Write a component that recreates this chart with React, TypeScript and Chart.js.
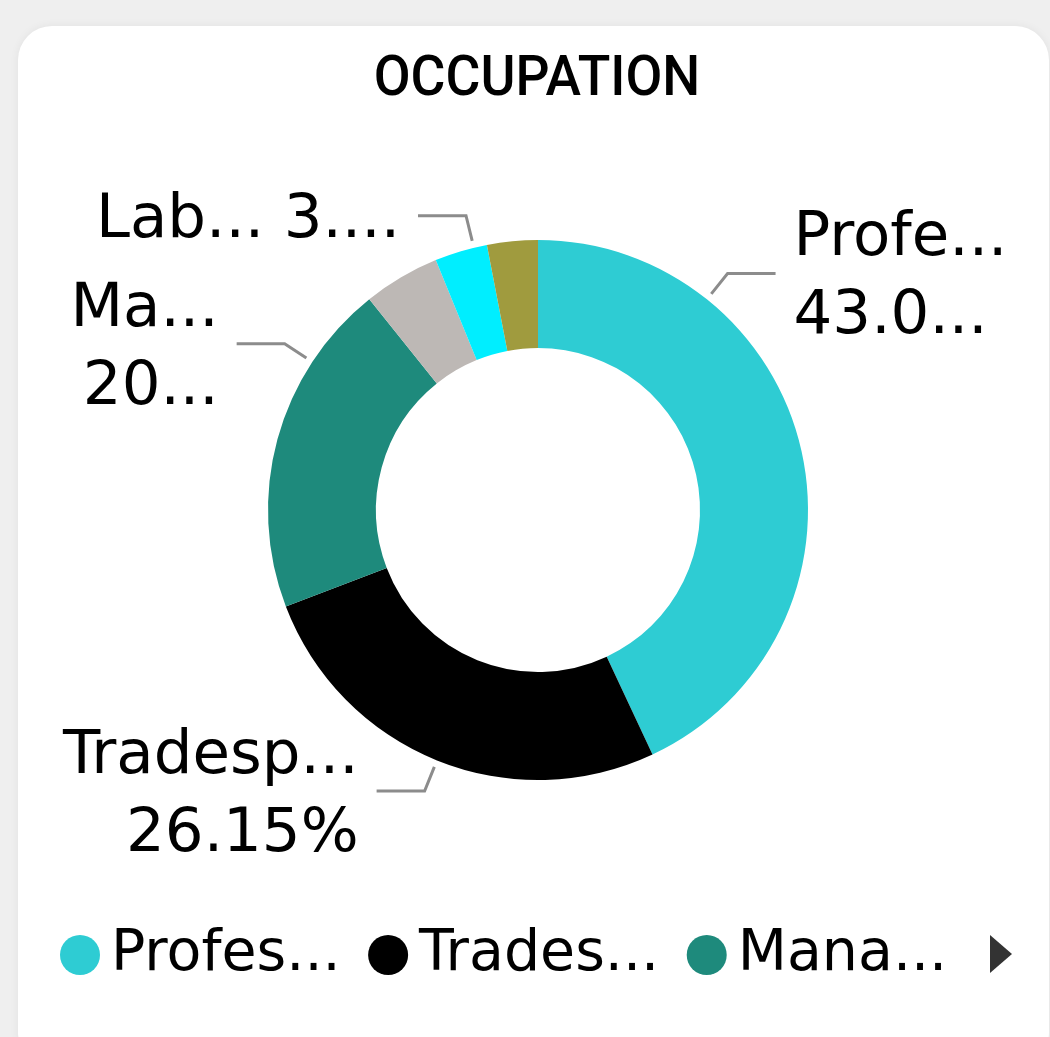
import React, { useEffect, useRef } from 'react';
import { Chart, registerables } from 'chart.js';

Chart.register(...registerables);

// ---- data ----
const categories = ['Professionals', 'Tradespersons', 'Managers', 'Community Workers', 'Labourers', 'Clerical Workers'];
const shares = [43.03, 26.15, 20.08, 4.56, 3.15, 3.03];
const sliceColors = ['#2ECCD3', '#000000', '#1E8A7C', '#BDB8B5', '#00EEFF', '#A09B3E'];
const legendTexts = ['Profes...', 'Trades...', 'Mana...'];
const labelSlices = [0, 1, 2, 4];
const labelTexts = [['Profe...', '43.0...'], ['Tradesp...', '26.15%'], ['Ma...', '20...'], ['Lab... 3....']];
const labelAnchors = [0.25, 0.5, 0.75, 0.75];
const chartTitle = 'OCCUPATION';

const leaderPlugin = {
  id: 'leaderLabels',
  afterDatasetsDraw(chart: any) {
    const meta = chart.getDatasetMeta(0);
    const ctx = chart.ctx;
    ctx.save();
    labelSlices.forEach((idx, k) => {
      const arc = meta.data[idx];
      const { x, y, startAngle, endAngle, outerRadius } = arc.getProps(
        ['x', 'y', 'startAngle', 'endAngle', 'outerRadius'],
        true
      );
      const a = startAngle + (endAngle - startAngle) * labelAnchors[k];
      const c = Math.cos(a);
      const s = Math.sin(a);
      const p1x = x + c * (outerRadius + 7);
      const p1y = y + s * (outerRadius + 7);
      const p2x = x + c * (outerRadius + 33);
      const p2y = y + s * (outerRadius + 33);
      const dir = c >= 0 ? 1 : -1;
      const p3x = p2x + dir * 48;
      ctx.strokeStyle = '#8C8C8C';
      ctx.lineWidth = 3;
      ctx.lineJoin = 'miter';
      ctx.beginPath();
      ctx.moveTo(p1x, p1y);
      ctx.lineTo(p2x, p2y);
      ctx.lineTo(p3x, p2y);
      ctx.stroke();
      ctx.font = '61px "DejaVu Sans"';
      ctx.fillStyle = '#000000';
      ctx.textAlign = dir > 0 ? 'left' : 'right';
      ctx.textBaseline = 'middle';
      const lines = labelTexts[k];
      const lh = 78;
      lines.forEach((t, i) => {
        ctx.fillText(t, p3x + dir * 18, p2y + (i - (lines.length - 1) / 2) * lh + 5);
      });
    });
    ctx.restore();
  },
};

function OccupationChart() {
  const ref = useRef<HTMLCanvasElement | null>(null);
  useEffect(() => {
    if (!ref.current) return;
    const chart = new Chart(ref.current, {
      type: 'doughnut',
      data: {
        labels: categories,
        datasets: [
          {
            data: shares,
            backgroundColor: sliceColors,
            borderWidth: 0,
            radius: 270,
            cutout: '60%',
          } as any,
        ],
      },
      options: {
        animation: false,
        responsive: false,
        maintainAspectRatio: false,
        layout: { padding: { left: 32.5, right: 6.5, top: 138.5, bottom: 43.5 } },
        plugins: {
          tooltip: { enabled: false },
          title: { display: false },
          legend: {
            display: true,
            position: 'bottom',
            align: 'start',
            labels: {
              usePointStyle: true,
              pointStyle: 'circle',
              boxWidth: 5,
              boxHeight: 28.28,
              padding: 45,
              color: '#000000',
              font: { family: '"DejaVu Sans"', size: 57 },
              generateLabels(chart: any) {
                const base = (Chart as any).overrides.doughnut.plugins.legend.labels.generateLabels(chart);
                return base.slice(0, legendTexts.length).map((it: any, i: number) => ({
                  ...it,
                  text: legendTexts[i],
                  lineWidth: 0,
                }));
              },
            },
          },
        },
      },
      plugins: [leaderPlugin],
    });
    return () => chart.destroy();
  }, []);
  return <canvas ref={ref} width={1050} height={1037} style={{ position: 'absolute', left: 0, top: 0 }} />;
}

export default function App() {
  return (
    <div
      style={{
        position: 'absolute',
        left: 0,
        top: 0,
        width: 1050,
        height: 1037,
        overflow: 'hidden',
        background: '#EFEFEF',
      }}
    >
      <div
        style={{
          position: 'absolute',
          left: 18,
          top: 26,
          width: 1031,
          height: 1040,
          borderRadius: 34,
          background: '#FFFFFF',
          boxShadow: '0 0 10px rgba(0,0,0,0.06)',
        }}
      />
      <div
        style={{
          position: 'absolute',
          left: 0,
          top: 47.6,
          width: 1074,
          textAlign: 'center',
          fontFamily: 'Roboto, sans-serif',
          fontWeight: 500,
          fontSize: 56,
          lineHeight: '56px',
          color: '#000',
          transform: 'scaleX(0.955)',
          transformOrigin: '537px 0',
        }}
      >
        {chartTitle}
      </div>
      <OccupationChart />
      <div
        style={{
          position: 'absolute',
          left: 990,
          top: 935,
          width: 0,
          height: 0,
          borderLeft: '22px solid #333333',
          borderTop: '19px solid transparent',
          borderBottom: '19px solid transparent',
        }}
      />
    </div>
  );
}
